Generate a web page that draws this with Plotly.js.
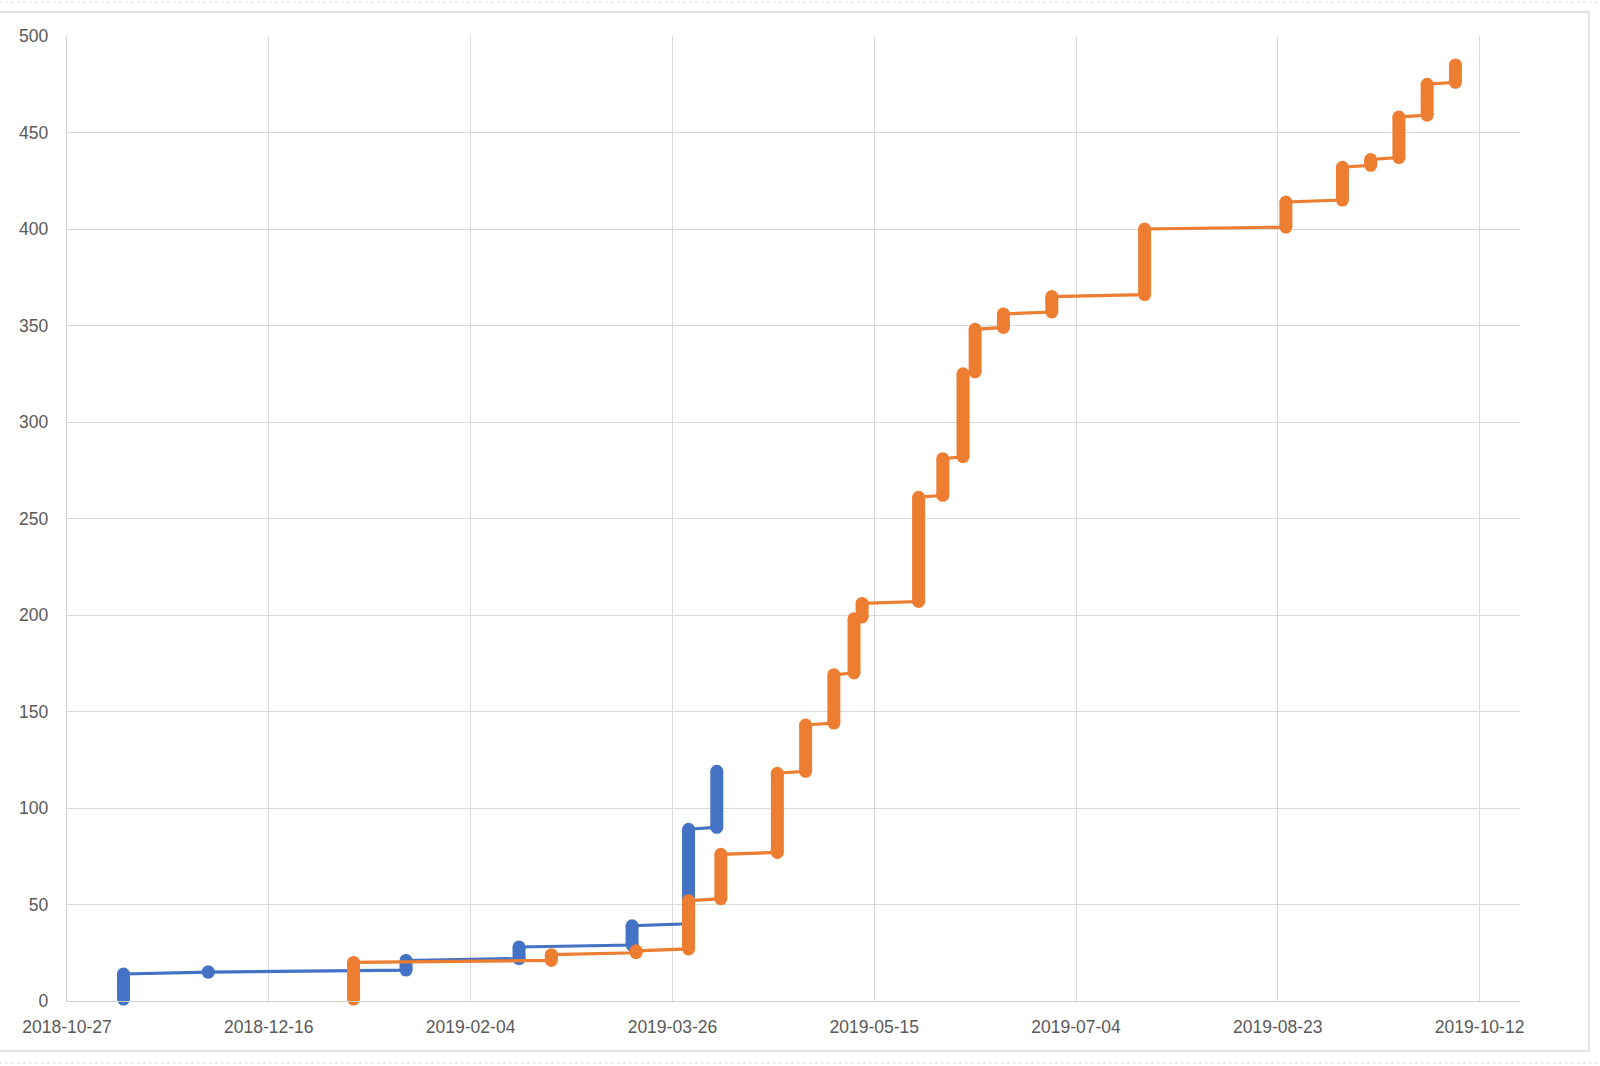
<!DOCTYPE html>
<html>
<head>
<meta charset="utf-8">
<script src="https://cdn.plot.ly/plotly-3.0.1.min.js"></script>
<style>
  html, body { margin: 0; padding: 0; background: #ffffff; }
  #chart { width: 1600px; height: 1066px; }
</style>
</head>
<body>
<div id="chart"></div>
<script>
// ---- Data ----
// Each date has a run of cumulative counts from "low" to "high".
const blueDates = ['2018-11-10', '2018-12-01', '2019-01-19', '2019-02-16', '2019-03-16', '2019-03-30', '2019-04-06'];
const blueLow   = [1, 15, 16, 22, 29, 40, 90];
const blueHigh  = [14, 15, 21, 28, 39, 89, 119];

const orangeDates = ['2019-01-06', '2019-02-24', '2019-03-17', '2019-03-30', '2019-04-07', '2019-04-21',
                     '2019-04-28', '2019-05-05', '2019-05-10', '2019-05-12', '2019-05-26', '2019-06-01',
                     '2019-06-06', '2019-06-09', '2019-06-16', '2019-06-28', '2019-07-21', '2019-08-25',
                     '2019-09-08', '2019-09-15', '2019-09-22', '2019-09-29', '2019-10-06'];
const orangeLow   = [1, 21, 25, 27, 53, 77, 119, 144, 170, 199, 207, 262, 282, 326, 349, 357, 366, 401, 415, 433, 437, 459, 476];
const orangeHigh  = [20, 24, 26, 52, 76, 118, 143, 169, 198, 206, 261, 281, 325, 348, 356, 365, 400, 414, 432, 436, 458, 475, 485];

const xTickLabels = ['2018-10-27', '2018-12-16', '2019-02-04', '2019-03-26', '2019-05-15', '2019-07-04', '2019-08-23', '2019-10-12'];
const yTicks = [0, 50, 100, 150, 200, 250, 300, 350, 400, 450, 500];

const BLUE = '#4472C4';
const ORANGE = '#ED7D31';

function thinLine(dates, lo, hi, color) {
  const x = [], y = [];
  dates.forEach((d, i) => { x.push(d, d); y.push(lo[i], hi[i]); });
  return { x, y, type: 'scatter', mode: 'lines', line: { color, width: 3.2 }, hoverinfo: 'skip' };
}
function thickRuns(dates, lo, hi, color) {
  const x = [], y = [];
  dates.forEach((d, i) => { x.push(d, d, null); y.push(lo[i], hi[i], null); });
  return { x, y, type: 'scatter', mode: 'lines+markers', connectgaps: false, cliponaxis: false,
           line: { color, width: 13 }, marker: { color, size: 13 }, hoverinfo: 'skip' };
}

const traces = [
  thinLine(blueDates, blueLow, blueHigh, BLUE),
  thickRuns(blueDates, blueLow, blueHigh, BLUE),
  thinLine(orangeDates, orangeLow, orangeHigh, ORANGE),
  thickRuns(orangeDates, orangeLow, orangeHigh, ORANGE)
];

const fontFam = '"Liberation Sans", Arial, sans-serif';

const layout = {
  width: 1600,
  height: 1066,
  margin: { l: 67, r: 80, t: 36, b: 65, pad: 0 },
  paper_bgcolor: '#ffffff',
  plot_bgcolor: '#ffffff',
  showlegend: false,
  font: { family: fontFam, size: 17.5, color: '#595959' },
  xaxis: {
    type: 'date',
    range: ['2018-10-27', '2019-10-22'],
    tickmode: 'array',
    tickvals: xTickLabels,
    ticktext: xTickLabels,
    showgrid: true,
    gridcolor: '#D9D9D9',
    gridwidth: 1,
    showline: true,
    linecolor: '#CFCFCF',
    linewidth: 1.2,
    ticks: '',
    ticklabelstandoff: 10,
    zeroline: false,
    tickfont: { family: fontFam, size: 17.5, color: '#595959' },
    fixedrange: true
  },
  yaxis: {
    range: [0, 500],
    tickmode: 'array',
    tickvals: yTicks,
    ticktext: yTicks.map(String),
    showgrid: true,
    gridcolor: '#D9D9D9',
    gridwidth: 1,
    showline: true,
    linecolor: '#CFCFCF',
    linewidth: 1.2,
    ticks: '',
    ticklabelstandoff: 14,
    zeroline: false,
    tickfont: { family: fontFam, size: 17.5, color: '#595959' },
    fixedrange: true
  },
  shapes: [
    // chart-area frame
    { type: 'rect', xref: 'paper', yref: 'paper',
      x0: -0.08, x1: (1589 - 67) / 1453, y0: (1001 - 1051) / 965, y1: (1001 - 12) / 965,
      line: { color: '#D9D9D9', width: 1.5 }, fillcolor: 'rgba(0,0,0,0)', layer: 'below' },
    // faint dotted sheet lines above and below
    { type: 'line', xref: 'paper', yref: 'paper',
      x0: -0.08, x1: 1.06, y0: (1001 - 2) / 965, y1: (1001 - 2) / 965,
      line: { color: '#E6E6E6', width: 1.5, dash: 'dot' }, layer: 'below' },
    { type: 'line', xref: 'paper', yref: 'paper',
      x0: -0.08, x1: 1.06, y0: (1001 - 1063) / 965, y1: (1001 - 1063) / 965,
      line: { color: '#E6E6E6', width: 1.5, dash: 'dot' }, layer: 'below' }
  ]
};

Plotly.newPlot('chart', traces, layout, { displayModeBar: false, staticPlot: true });
</script>
</body>
</html>
